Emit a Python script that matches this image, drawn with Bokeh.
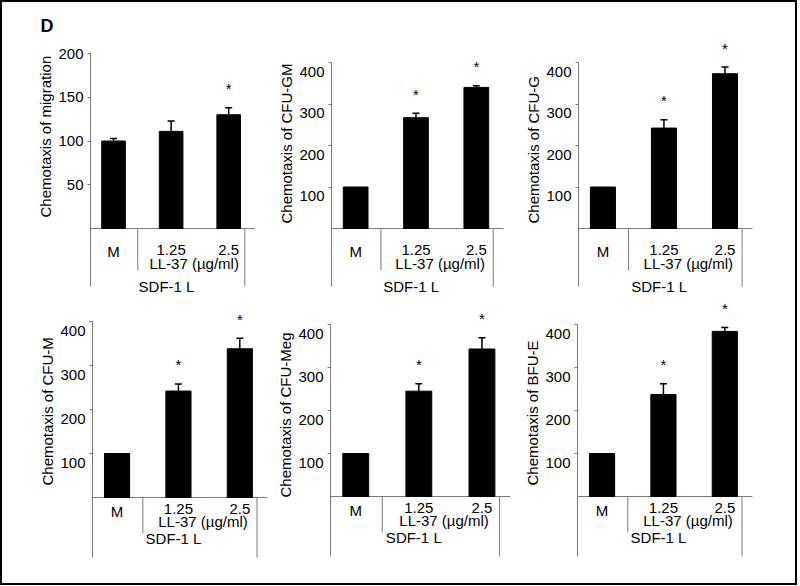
from bokeh.plotting import figure
from bokeh.layouts import row, column
from bokeh.models import FixedTicker, CustomJSTickFormatter, Range1d, Title
from bokeh.embed import file_html
from bokeh.resources import INLINE
from bokeh.core.properties import value

# ---------------- data ----------------
categories = ["M", "1.25", "2.5"]
cat_x = [1, 2, 3]
group_label = "LL-37 (µg/ml)"
outer_label = "SDF-1 L"
panel_letter = "D"

ylabels = ["Chemotaxis of  migration", "Chemotaxis of  CFU-GM", "Chemotaxis of  CFU-G",
           "Chemotaxis of  CFU-M", "Chemotaxis of  CFU-Meg", "Chemotaxis of  BFU-E"]

migration = [100, 111, 130]
migration_err = [3, 12, 8]
migration_sig = [False, False, True]

cfu_gm = [100, 267, 340]
cfu_gm_err = [0, 11, 4]
cfu_gm_sig = [False, True, True]

cfu_g = [100, 242, 373]
cfu_g_err = [0, 20, 16]
cfu_g_sig = [False, True, True]

cfu_m = [100, 242, 338]
cfu_m_err = [0, 16, 24]
cfu_m_sig = [False, True, True]

cfu_meg = [100, 245, 343]
cfu_meg_err = [0, 17, 26]
cfu_meg_sig = [False, True, True]

bfu_e = [100, 237, 384]
bfu_e_err = [0, 25, 9]
bfu_e_sig = [False, True, True]

ticks_migration = [50, 100, 150, 200]
ticks_cfu = [100, 200, 300, 400]

# ---------------- layout (reference pixel geometry, 1:1) ----------------
BORDER = 2
ORIGIN = 2            # reference pixel at the layout's inner top-left
INNER_W = 793
INNER_H = 581
GRAY = "#7a7a7a"
FONT = "Liberation Sans"
FS = "15px"

rows_geo = [
    dict(top=ORIGIN, bottom=298, frame_top=36, frame_bottom=296,
         cols=[ORIGIN, 262, 515, ORIGIN + INNER_W],
         axis_x=[90, 331, 578], spacing=[57.5, 60.5, 61], scale=[87.5, 41.5, 41.5],
         baseline=[228, 228, 228], shift=[0, 9, 9], ylabel_end=[217, 223, 223],
         num_off=21, m_off=23, ll_off=35, sdf_off=58, mid_sep=42, outer_sep=58),
    dict(top=298, bottom=ORIGIN + INNER_H, frame_top=301, frame_bottom=572,
         cols=[ORIGIN, 273, 515, ORIGIN + INNER_W],
         axis_x=[92, 329, 577], spacing=[61.5, 63.5, 61.5], scale=[44, 43, 43],
         baseline=[497, 496, 496], shift=[9, 9, 9], ylabel_end=[485, 497, 485],
         num_off=11, m_off=14, ll_off=24, sdf_off=41, mid_sep=36, outer_sep=60),
]

panels = [
    (ylabels[0], migration, migration_err, migration_sig, ticks_migration),
    (ylabels[1], cfu_gm, cfu_gm_err, cfu_gm_sig, ticks_cfu),
    (ylabels[2], cfu_g, cfu_g_err, cfu_g_sig, ticks_cfu),
    (ylabels[3], cfu_m, cfu_m_err, cfu_m_sig, ticks_cfu),
    (ylabels[4], cfu_meg, cfu_meg_err, cfu_meg_sig, ticks_cfu),
    (ylabels[5], bfu_e, bfu_e_err, bfu_e_sig, ticks_cfu),
]

X0, X1 = 0.6, 3.5
AXIS_END = 3.45
SEP_MID = 1.42
SEP_END = 3.28
BAR_W = 0.41
LL_X = 2.4
SDF_X = 1.92


def make_panel(r, c, spec):
    g = rows_geo[r]
    ylabel, vals, errs, sig, ticks = spec
    scale = g["scale"][c]
    base = g["baseline"][c]
    spacing = g["spacing"][c]

    def u(px):  # reference pixels -> data units
        return px / scale * 100.0

    col_edges = g["cols"]
    fig_w = round(col_edges[c + 1] - col_edges[c])
    fig_h = round(g["bottom"] - g["top"])
    left = round(g["axis_x"][c] - col_edges[c])
    frame_w = round((X1 - X0) * spacing)
    right = fig_w - left - frame_w
    frame_bottom = min(g["frame_bottom"], g["bottom"])
    top = round(g["frame_top"] - g["top"])
    frame_h = round(frame_bottom - g["frame_top"])
    bottom = fig_h - top - frame_h

    y0 = -u(frame_bottom - base)
    y1 = u(base - g["frame_top"])

    p = figure(width=fig_w, height=fig_h, x_range=Range1d(X0, X1), y_range=Range1d(y0, y1),
               output_backend="svg", toolbar_location=None, x_axis_location=None,
               min_border_left=left, min_border_right=right,
               min_border_top=top, min_border_bottom=bottom)
    p.xgrid.visible = False
    p.ygrid.visible = False
    p.outline_line_color = None
    p.background_fill_color = "white"
    p.border_fill_color = "white"

    shift = u(g["shift"][c])
    ax = p.yaxis[0]
    ax.ticker = FixedTicker(ticks=[t - shift for t in ticks], minor_ticks=ticks)
    ax.formatter = CustomJSTickFormatter(args=dict(shift=shift),
                                         code="return Math.round(tick + shift).toFixed(0);")
    ax.bounds = (-u(g["outer_sep"]), ticks[-1])
    ax.axis_line_color = GRAY
    ax.axis_line_width = 1
    ax.major_tick_out = 0
    ax.major_tick_in = 0
    ax.minor_tick_out = 3
    ax.minor_tick_in = 0
    ax.minor_tick_line_color = GRAY
    ax.major_label_standoff = 4
    ax.major_label_text_font = FONT
    ax.major_label_text_font_size = FS
    ax.major_label_text_color = "black"

    # y-axis title: starts (bottom end) where the reference's label starts
    ytitle = Title(text=ylabel, align="left", offset=frame_bottom - g["ylabel_end"][c],
                   text_font=FONT, text_font_size=FS, text_font_style="normal",
                   text_color="black", standoff=3)
    p.add_layout(ytitle, "left")

    # baseline and group separators
    p.segment(x0=[X0], y0=[0], x1=[AXIS_END], y1=[0], line_color=GRAY, line_width=1)
    p.segment(x0=[SEP_MID, SEP_END], y0=[0, 0], x1=[SEP_MID, SEP_END],
              y1=[-u(g["mid_sep"]), -u(g["outer_sep"])], line_color=GRAY, line_width=1)

    # bars
    p.vbar(x=cat_x, top=vals, bottom=0, width=BAR_W, fill_color="black", line_color="black")

    # error bars (upper only)
    ex = [x for x, e in zip(cat_x, errs) if e > 0]
    ev = [v for v, e in zip(vals, errs) if e > 0]
    ee = [v + e for v, e in zip(vals, errs) if e > 0]
    cap = 3.5 / spacing
    p.segment(x0=ex, y0=ev, x1=ex, y1=ee, line_color="black", line_width=1.5)
    p.segment(x0=[x - cap for x in ex], y0=ee, x1=[x + cap for x in ex], y1=ee,
              line_color="black", line_width=1.5)

    # significance stars
    sx_ = [x for x, s in zip(cat_x, sig) if s]
    sy_ = [v + e + u(19) for v, e, s in zip(vals, errs, sig) if s]
    p.text(x=sx_, y=sy_, text=["*"] * len(sx_), text_align="center", text_baseline="middle",
           text_font=value(FONT), text_font_size=FS, text_color="black")

    # category labels below baseline
    p.text(x=cat_x, y=[-u(g["m_off"]), -u(g["num_off"]), -u(g["num_off"])], text=categories,
           text_align="center", text_baseline="middle", text_font=value(FONT),
           text_font_size=FS, text_color="black")
    p.text(x=[LL_X], y=[-u(g["ll_off"])], text=[group_label], text_align="center",
           text_baseline="middle", text_font=value(FONT), text_font_size=FS, text_color="black")
    p.text(x=[SDF_X], y=[-u(g["sdf_off"])], text=[outer_label], text_align="center",
           text_baseline="middle", text_font=value(FONT), text_font_size=FS, text_color="black")

    if r == 0 and c == 0:
        p.title.text = panel_letter
        p.title.text_font = FONT
        p.title.text_font_size = "18px"
        p.title.text_font_style = "bold"
        p.title.text_color = "black"
        p.title.align = "left"
        p.title.offset = -round(g["axis_x"][0] - 40)
        p.title.standoff = 2
    return p


figs = [[make_panel(r, c, panels[r * 3 + c]) for c in range(3)] for r in range(2)]
layout = column(row(*figs[0]), row(*figs[1]),
                styles={"border": f"{BORDER}px solid black"})

with open("out.html", "w") as f:
    f.write(file_html(layout, INLINE))
